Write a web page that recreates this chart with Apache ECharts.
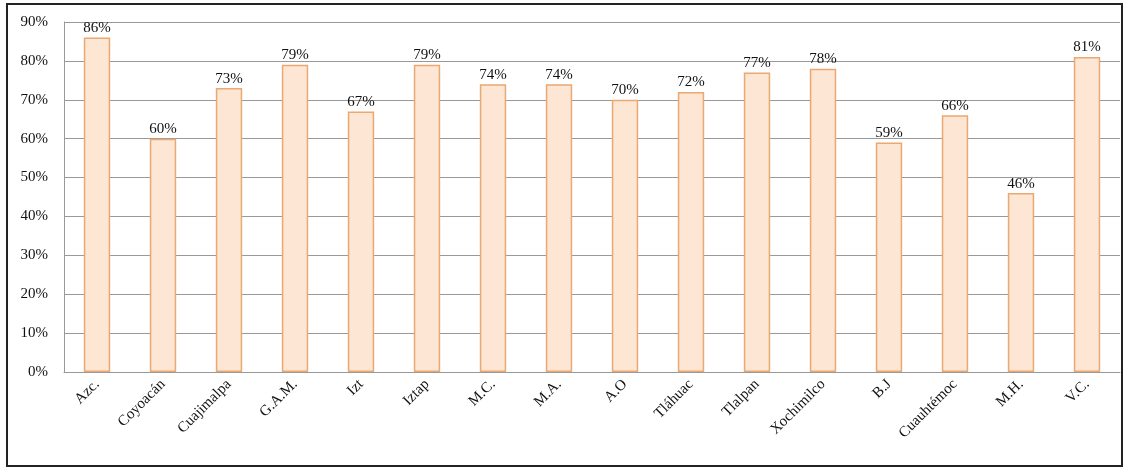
<!DOCTYPE html>
<html><head><meta charset="utf-8">
<script src="https://cdn.jsdelivr.net/npm/echarts@6/dist/echarts.min.js"></script>
<style>html,body{margin:0;padding:0;background:#fff}#c{width:1128px;height:471px}</style>
</head><body><div id="c"></div>
<script>
var categories = ['Azc.','Coyoacán','Cuajimalpa','G.A.M.','Izt','Iztap','M.C.','M.A.','A.O','Tláhuac','Tlalpan','Xochimilco','B.J','Cuauhtémoc','M.H.','V.C.'];
var values = [86,60,73,79,67,79,74,74,70,72,77,78,59,66,46,81];
var yTicks = [0,10,20,30,40,50,60,70,80,90];

var chart = echarts.init(document.getElementById('c'));
chart.setOption({
  animation:false,
  backgroundColor:'#fff',
  textStyle:{fontFamily:'Liberation Serif'},
  graphic:[{type:'rect',shape:{x:7,y:4,width:1115,height:462},style:{fill:'none',stroke:'#222',lineWidth:2},z:-1}],
  grid:{left:64,right:8,top:22,bottom:99},
  xAxis:{type:'category',data:categories,
    axisLine:{lineStyle:{color:'#999'}},axisTick:{show:false},
    axisLabel:{rotate:45,color:'#111',fontSize:15,fontFamily:'Liberation Serif',margin:10,interval:0}},
  yAxis:{type:'value',min:0,max:90,interval:10,
    axisLine:{show:true,lineStyle:{color:'#999'}},axisTick:{show:false},
    splitLine:{lineStyle:{color:'#999',width:1}},
    axisLabel:{formatter:function(v){return v+'%';},color:'#111',fontSize:15,margin:16,align:'right'}},
  series:[{type:'bar',data:values,barWidth:'40%',
    itemStyle:{color:'#fde6d3',borderColor:'#eaa873',borderWidth:1.5},
    label:{show:true,position:'top',formatter:'{c}%',color:'#111',fontSize:15,fontFamily:'Liberation Serif',distance:2}}]
});
</script></body></html>
